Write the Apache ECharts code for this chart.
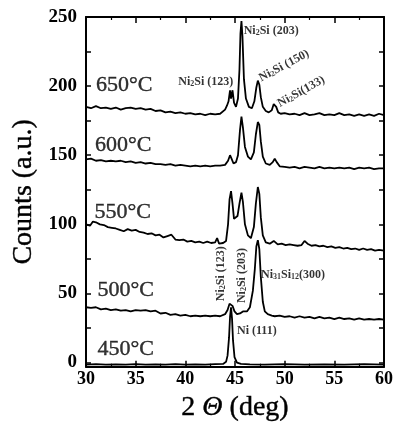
<!DOCTYPE html>
<html><head><meta charset="utf-8">
<script src="https://cdn.jsdelivr.net/npm/echarts@6/dist/echarts.min.js"></script>
<style>html,body{margin:0;padding:0;background:#fff}#c{width:396px;height:427px}</style>
</head><body><div id="c"></div>
<script>
// ---- data ----
const x650 = [30,30.5,31,31.5,32,32.5,33,33.5,34,34.5,35,35.5,36,36.5,37,37.5,38,38.5,39,39.5,40,40.5,41,41.5,42,42.5,43,43.5,
  44.0,44.2,44.35,44.5,44.6,44.75,44.9,45.1,45.3,45.45,45.55,45.65,45.75,45.9,46.1,46.4,46.7,46.95,47.15,47.3,47.45,47.6,47.8,48.1,48.4,48.7,48.9,49.0,49.15,49.35,49.6,
  50,50.5,51,51.5,52,52.5,53,53.5,54,54.5,55,55.5,56,56.5,57,57.5,58,58.5,59,59.5,60];
const y650 = [185,184,185.5,184,184.5,183.5,184.5,183,184,184.5,183.5,184,183,183.5,182,182.5,181,181.5,180.5,181,180,180.5,179.5,180,179,180,179.5,180,
  183,186,189,197,191,197,188,185,191,212,238,247,236,205,191,185,184,189,199,204,201,192,185,182,181,182.5,187,188,185,181,180,
  180.5,179.5,180,179,180.5,179,179.5,180.5,179,179.5,179,180.5,179,179.5,178.5,179.5,178.5,179.5,178.5,180,179];

const x600 = [30,30.5,31,31.5,32,32.5,33,33.5,34,34.5,35,35.5,36,36.5,37,37.5,38,38.5,39,39.5,40,40.5,41,41.5,42,42.5,43,43.5,
  44.0,44.3,44.5,44.65,44.85,45.1,45.3,45.5,45.65,45.8,46.0,46.3,46.6,46.9,47.1,47.3,47.45,47.6,47.8,48.1,48.5,48.8,49.0,49.2,49.5,
  50,50.5,51,51.5,52,52.5,53,53.5,54,54.5,55,55.5,56,56.5,57,57.5,58,58.5,59,59.5,60];
const y600 = [147,147.5,146,146.5,145.5,146,145.5,146,145,145.5,144.5,145,144,144.5,143.5,143.5,143,143.5,142.5,143,142.5,142,142.5,142,142.5,142,142.5,142.5,
  143,146,150,147.5,144,145,150,168,178,170,156,149,147,152,165,174,172,160,149,144,143,145,147.5,145,142,
  141.5,141,141.5,140.5,141.5,141,140.5,141.5,140.5,141,140.5,141,140.5,141,140,141,140.5,141,140,140.5,140.5];

const x550 = [30,30.4,30.7,31,31.4,31.8,32.2,32.6,33,33.4,33.8,34.2,34.6,35,35.4,35.8,36.2,36.6,37,37.4,37.8,38.2,38.6,39,39.4,39.8,40.2,40.6,41,41.4,
  41.8,42.2,42.6,43,43.2,43.4,43.8,44.1,44.3,44.45,44.6,44.75,44.9,45.05,45.25,45.45,45.65,45.8,46.0,46.3,46.6,46.9,47.1,47.3,47.45,47.6,47.8,48.1,48.5,48.9,
  49.3,49.7,50.1,50.5,50.9,51.3,51.7,52,52.3,52.7,53.1,53.5,53.9,54.3,54.7,55.1,55.5,55.9,56.3,56.7,57.1,57.5,57.9,58.3,58.7,59.1,59.5,60];
const y550 = [100,99,102,101.5,100,99.5,98,97.5,97,96,95,96.5,95.5,96,94.5,94,93,93.5,92,92.5,90.5,91.5,92.5,89,88.5,89,87.5,88,87,87.5,
  86.5,87.5,86.5,87,90,86,86.5,88,100,118,124,115,104,103,106,115,123,116,100,92,90,98,115,127,122,105,92,87,86,88,
  85.5,86,85,85.5,85,84.5,85,88,86,84.5,85,84,84.5,83.5,84,83,83.5,82.5,83,82,82.5,81.5,82.5,81.5,82,81,81.5,81];

const x500 = [30,30.5,31,31.5,32,32.5,33,33.5,34,34.5,35,35.5,36,36.5,37,37.5,38,38.5,39,39.5,40,40.5,41,41.5,42,42.5,43,43.5,44,
  44.25,44.45,44.6,44.75,44.95,45.2,45.5,45.8,46.0,46.2,46.5,46.8,47.0,47.15,47.3,47.45,47.6,47.8,48.0,48.3,48.7,
  49,49.5,50,50.5,51,51.5,52,52.5,53,53.5,54,54.5,55,55.5,56,56.5,57,57.5,58,58.5,59,59.5,60];
const y500 = [40,39.5,40,38.5,39,38,38.5,37.5,38,37,38,37.5,38,37,37.5,35.5,36,34.5,35,34,34.5,33.5,34,33.5,34,33.5,34,33.5,35,
  38,42.5,43.5,41,37,35,35.5,37,37.5,37,40,52,68,84,88.5,82,62,44,37,35,34,
  33.5,34,33,33.5,32.5,33.5,32.5,33,32,33,32,32.5,31.5,32.5,31.5,32,31,32,31,31.5,31,31.5,31];

const x450 = [30,31,32,33,34,35,36,37,38,39,40,41,42,43,43.8,44.1,44.25,44.4,44.5,44.6,44.7,44.8,44.95,45.2,45.6,46.5,48,50,52,54,56,58,60];
const y450 = [-1.5,-1.2,-1.5,-1.3,-1.5,-1.2,-1.5,-1.3,-1.5,-1.2,-1.5,-1.3,-1.5,-1.2,-1,0.5,5,18,33,40,32,16,4,0,-1,-1.3,-1.5,-1.2,-1.5,-1.3,-1.5,-1.2,-1.5];

const xTicks = [30,35,40,45,50,55,60];
const yTickLabels = [0,50,100,150,200,250];
const yTicks = [0,25,50,75,100,125,150,175,200,225,250];

// temperature labels: [x, y, text]
const tempLabels = [[33.84,200.6,'650°C'],[33.74,157.5,'600°C'],[33.7,108.8,'550°C'],[34.0,52.3,'500°C'],[34.0,9.9,'450°C']];
// peak annotations: [x, y, rich text, rotation]
const peakLabels = [
  [48.64,239.8,'Ni{s|2}Si (203)',0],
  [42.06,202.7,'Ni{s|2}Si (123)',0],
  [49.94,214.7,'Ni{s|2}Si (150)',28],
  [51.68,196.0,'Ni{s|2}Si(133)',29],
  [43.61,64.3,'Ni{s|2}Si (123)',90],
  [45.70,62.9,'Ni{s|2}Si (203)',90],
  [50.84,63.6,'Ni{s|31}Si{s|12}(300)',0],
  [47.2,22.6,'Ni (111)',0]
];

const zip = (xs, ys) => xs.map((x, i) => [x, ys[i]]);
const curves = [[x650,y650],[x600,y600],[x550,y550],[x500,y500],[x450,y450]];

const FONT = '"Liberation Serif", "Times New Roman", serif';
const chart = echarts.init(document.getElementById('c'), null, {renderer:'canvas'});

const axisCommonX = {
  type:'value', min:30, max:60, interval:5,
  axisLine:{onZero:false, lineStyle:{color:'#000', width:2}},
  axisTick:{inside:true, length:6, lineStyle:{color:'#000', width:1.5}},
  minorTick:{show:true, splitNumber:2, length:3, lineStyle:{color:'#000', width:1.2}},
  splitLine:{show:false}
};
const axisCommonY = {
  type:'value', min:-3, max:250,
  axisLine:{onZero:false, lineStyle:{color:'#000', width:2}},
  axisTick:{inside:true, length:5, customValues:yTicks, lineStyle:{color:'#000', width:1.5}},
  splitLine:{show:false}
};

const series = curves.map(c => ({
  type:'line', data: zip(c[0], c[1]), showSymbol:false, symbol:'none',
  lineStyle:{color:'#000', width:1.8}, silent:true, animation:false, z:2
}));

series.push({
  type:'scatter', symbolSize:0, silent:true, animation:false, z:5,
  data: tempLabels.map(t => ({value:[t[0], t[1]], label:{formatter:t[2]}})),
  label:{show:true, position:'inside', color:'#000', fontFamily:FONT, fontSize:22,
    textBorderColor:'#000', textBorderWidth:0.4}
});
series.push({
  type:'scatter', symbolSize:0, silent:true, animation:false, z:5,
  data: peakLabels.map(t => ({value:[t[0], t[1]], label:{formatter:t[2], rotate:t[3]}})),
  label:{show:true, position:'inside', color:'#000', fontFamily:FONT, fontSize:12, fontWeight:'bold',
    rich:{s:{fontSize:8, fontWeight:'bold', fontFamily:FONT, color:'#000', verticalAlign:'bottom', lineHeight:9}}}
});

chart.setOption({
  backgroundColor:'#fff',
  animation:false,
  grid:{left:86, right:9, top:17, bottom:52, containLabel:false},
  xAxis:[
    Object.assign({}, axisCommonX, {
      position:'bottom',
      axisLabel:{color:'#000', fontFamily:FONT, fontSize:18, fontWeight:'bold', margin:4, customValues:xTicks},
      name:'2 {t|Θ} (deg)', nameLocation:'middle', nameGap:20,
      nameTextStyle:{color:'#000', fontFamily:FONT, fontSize:28, textBorderColor:'#000', textBorderWidth:0.4,
        rich:{t:{fontStyle:'italic', fontFamily:FONT, fontSize:28, color:'#000', textBorderColor:'#000', textBorderWidth:0.4}}}
    }),
    Object.assign({}, axisCommonX, {position:'top', axisLabel:{show:false}})
  ],
  yAxis:[
    Object.assign({}, axisCommonY, {
      position:'left',
      axisLabel:{color:'#000', fontFamily:FONT, fontSize:19, fontWeight:'bold', margin:9, customValues:yTickLabels},
      name:'Counts (a.u.)', nameLocation:'middle', nameGap:48,
      nameTextStyle:{color:'#000', fontFamily:FONT, fontSize:28, textBorderColor:'#000', textBorderWidth:0.4}
    }),
    Object.assign({}, axisCommonY, {position:'right', axisLabel:{show:false}})
  ],
  series: series
});
</script></body></html>
